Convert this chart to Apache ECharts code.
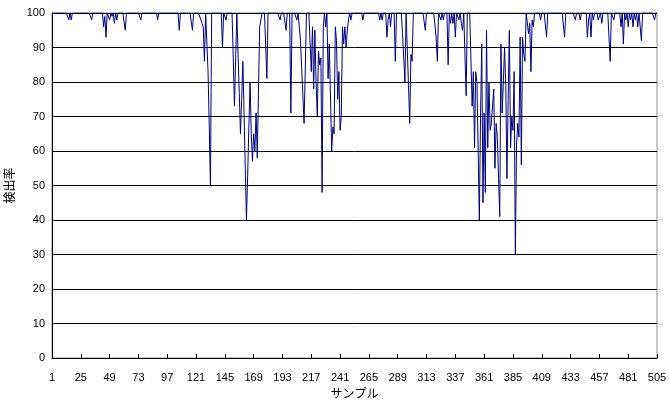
<!DOCTYPE html>
<html>
<head>
<meta charset="utf-8">
<script src="https://cdn.jsdelivr.net/npm/echarts@6/dist/echarts.min.js"></script>
<style>
html,body{margin:0;padding:0;background:#fff;}
#chart{width:669px;height:401px;}
</style>
</head>
<body>
<div id="chart"></div>
<script>
// sample numbers 1..505
var categories = [];
for (var k = 1; k <= 505; k++) categories.push(String(k));

// detection rate per sample
var detectionRate = [
100,100,100,100,100,100,100,100,100,100,100,100,100,100,98,100,98,100,100,100,100,100,100,100,
100,100,100,100,100,100,100,100,100,98,100,100,100,100,100,100,100,100,100,96,99,93,100,100,
98,100,99,100,97,100,98,100,100,100,100,100,100,95,100,100,100,100,100,100,100,100,100,100,
100,100,98,100,100,100,100,100,100,100,100,100,100,100,100,100,98,100,100,100,100,100,100,100,
100,100,100,100,100,100,100,100,100,100,95,100,100,100,100,100,100,100,100,100,100,95,100,100,
100,100,100,100,98,97,96,86,100,100,83,67,50,100,100,100,100,100,100,100,100,100,90,100,
100,98,100,100,100,100,100,87,73,87,100,88,77,65,75,86,71,55,40,53,67,80,65,57,
65,60,71,58,58,96,96,100,100,100,100,81,100,100,100,100,100,100,100,100,100,100,98,100,
100,100,100,95,100,100,100,71,100,100,100,100,98,100,100,92,84,76,68,84,100,100,100,100,
83,96,78,95,80,70,89,85,87,48,96,100,96,100,81,91,91,60,67,65,96,92,75,83,
66,70,96,91,96,90,95,98,100,98,100,100,100,100,100,100,100,100,100,98,100,100,100,100,
100,100,100,100,100,100,100,100,100,98,100,98,100,100,100,93,98,100,96,100,100,100,86,100,
100,100,100,100,94,87,80,100,89,79,68,88,86,100,100,100,100,100,100,100,100,100,100,95,
100,100,100,100,100,100,100,100,93,86,100,100,98,100,98,100,100,100,85,100,97,100,97,100,
93,100,100,98,100,97,95,100,100,76,100,100,100,100,73,83,61,83,80,60,40,70,91,45,
71,48,95,61,80,66,68,73,78,55,68,64,52,41,91,71,80,90,79,52,75,95,61,70,
66,83,30,62,68,64,93,56,93,88,86,100,100,94,97,83,98,96,100,100,100,100,100,98,
100,100,100,100,93,100,100,100,100,100,100,100,100,100,100,100,100,100,100,93,100,100,100,100,
100,100,100,100,98,100,100,100,98,100,100,100,100,100,93,98,100,93,100,98,100,100,100,98,
98,100,97,100,100,100,100,100,100,86,100,100,98,100,100,100,100,100,96,100,91,100,98,100,
96,100,98,100,96,100,98,100,96,100,100,92,100,100,100,100,100,100,100,100,100,100,98,100,
100
];

var xAxisTitle = 'サンプル';
var yAxisTitle = '検出率';

var chart = echarts.init(document.getElementById('chart'), null, {renderer: 'canvas'});
var font = "'Liberation Sans', Arial, sans-serif";
var cjk = "'Noto Sans CJK JP', sans-serif";
chart.setOption({
  animation: false,
  backgroundColor: '#ffffff',
  grid: {left: 52, right: 12, top: 13, bottom: 43, containLabel: false, outerBoundsMode: 'none',
         show: true, borderColor: '#8c8c8c', borderWidth: 1},
  xAxis: {
    type: 'category',
    data: categories,
    boundaryGap: false,
    name: xAxisTitle,
    nameLocation: 'middle',
    nameGap: 29,
    nameTextStyle: {fontFamily: cjk, fontSize: 12, color: '#000'},
    axisLine: {show: true, lineStyle: {color: '#000', width: 1}},
    axisTick: {show: true, inside: true, length: 4, interval: 23, lineStyle: {color: '#000'}},
    axisLabel: {interval: 23, fontFamily: font, fontSize: 11, color: '#000', margin: 14},
    splitLine: {show: false}
  },
  yAxis: {
    type: 'value',
    min: 0,
    max: 100,
    interval: 10,
    name: yAxisTitle,
    nameLocation: 'middle',
    nameGap: 33,
    nameRotate: 90,
    nameTextStyle: {fontFamily: cjk, fontSize: 12, color: '#000'},
    axisLine: {show: true, lineStyle: {color: '#000', width: 1}},
    axisTick: {show: false},
    axisLabel: {fontFamily: font, fontSize: 11, color: '#000', margin: 7},
    splitLine: {show: true, lineStyle: {color: '#000', width: 1}}
  },
  series: [{
    type: 'line',
    data: detectionRate,
    symbol: 'none',
    lineStyle: {color: '#000080', width: 1},
    itemStyle: {color: '#000080'}
  }]
});
</script>
</body>
</html>
